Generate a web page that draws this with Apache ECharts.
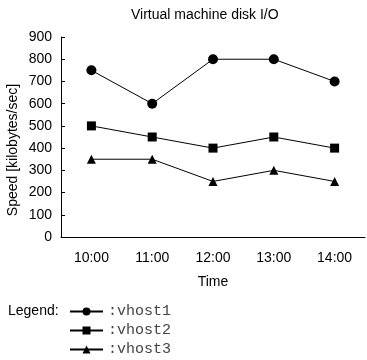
<!DOCTYPE html>
<html>
<head>
<meta charset="utf-8">
<script src="https://cdn.jsdelivr.net/npm/echarts@6/dist/echarts.min.js"></script>
<style>html,body{margin:0;padding:0;background:#fff}#c{width:367px;height:360px}</style>
</head>
<body>
<div id="c"></div>
<script>
var categories = ['10:00', '11:00', '12:00', '13:00', '14:00'];
var vhost1 = [750, 600, 800, 800, 700];
var vhost2 = [500, 450, 400, 450, 400];
var vhost3 = [350, 350, 250, 300, 250];
var yTicks = [0, 100, 200, 300, 400, 500, 600, 700, 800, 900];

var FONT = '"Liberation Sans", Arial, sans-serif';
var chart = echarts.init(document.getElementById('c'), null, {renderer: 'canvas'});
function mk(name, data, symbol, size) {
  return {
    name: name, type: 'line', data: data, symbol: symbol, symbolSize: size,
    showAllSymbol: true,
    lineStyle: {color: '#000', width: 1},
    itemStyle: {color: '#000'},
    emphasis: {disabled: true},
    animation: false
  };
}
chart.setOption({
  animation: false,
  title: {
    text: 'Virtual machine disk I/O', left: 126, top: 3,
    textStyle: {fontFamily: FONT, fontSize: 14, fontWeight: 'normal', color: '#000'}
  },
  grid: {left: 61, right: 2, top: 37, bottom: 123, containLabel: false},
  graphic: [{
    type: 'text', left: 8, top: 304,
    style: {text: 'Legend:', font: '14px ' + FONT, fill: '#000'}
  }, {
    type: 'text', x: 13, y: 150, rotation: Math.PI / 2,
    style: {text: 'Speed [kilobytes/sec]', font: '14px ' + FONT, fill: '#000', align: 'center', verticalAlign: 'middle'}
  }],
  legend: {
    orient: 'vertical', left: 69, top: 303, height: 57, padding: 0,
    itemWidth: 33, itemHeight: 10, itemGap: 2,
    formatter: ':{name}',
    textStyle: {fontFamily: '"Liberation Mono", "Courier New", monospace', fontSize: 15, color: '#444', lineHeight: 17},
    data: ['vhost1', 'vhost2', 'vhost3'],
    selectedMode: false
  },
  xAxis: {
    type: 'category', data: categories, boundaryGap: true,
    name: 'Time', nameLocation: 'middle', nameGap: 38,
    nameTextStyle: {fontFamily: FONT, fontSize: 14, color: '#000'},
    axisLine: {lineStyle: {color: '#000', width: 1}},
    axisTick: {inside: true, length: 4, lineStyle: {color: '#000'}},
    axisLabel: {fontFamily: FONT, fontSize: 14, color: '#000', margin: 14},
    splitLine: {show: false}
  },
  yAxis: {
    type: 'value', min: yTicks[0], max: yTicks[yTicks.length - 1], interval: 100,
    axisLine: {show: true, lineStyle: {color: '#000', width: 1}},
    axisTick: {show: true, inside: true, length: 4, lineStyle: {color: '#000'}},
    axisLabel: {fontFamily: FONT, fontSize: 14, color: '#000', margin: 9},
    splitLine: {show: false}
  },
  series: [
    mk('vhost1', vhost1, 'circle', 10),
    mk('vhost2', vhost2, 'rect', 9),
    mk('vhost3', vhost3, 'triangle', 9)
  ]
});
</script>
</body>
</html>
